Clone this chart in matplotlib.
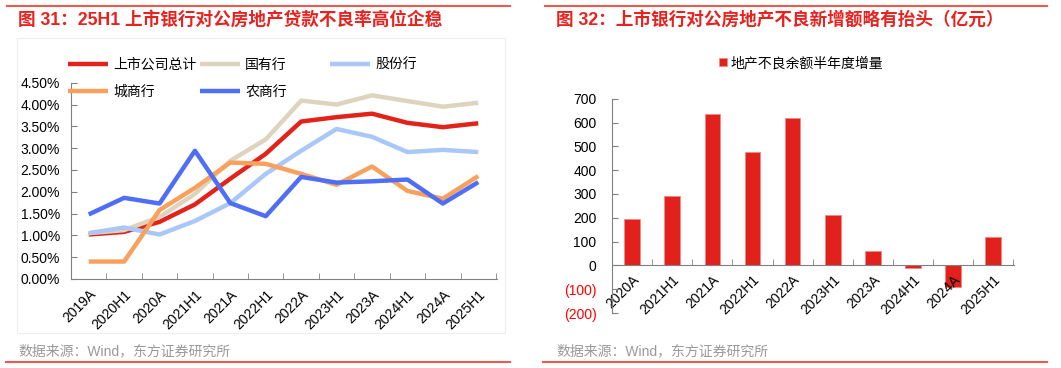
import matplotlib
matplotlib.use("Agg")
import matplotlib.pyplot as plt
import numpy as np
from matplotlib.lines import Line2D
from matplotlib.patches import Rectangle
from matplotlib.ticker import FuncFormatter, MultipleLocator

plt.rcParams['font.family'] = ['Liberation Sans', 'Noto Sans CJK SC']
plt.rcParams['axes.unicode_minus'] = False

# ---- data: left chart (不良率, %) ----
periods = ["2019A", "2020H1", "2020A", "2021H1", "2021A", "2022H1",
           "2022A", "2023H1", "2023A", "2024H1", "2024A", "2025H1"]
total = [1.02, 1.08, 1.31, 1.71, 2.30, 2.87, 3.61, 3.71, 3.79, 3.58, 3.48, 3.57]
state_owned = [1.05, 1.12, 1.42, 1.95, 2.71, 3.20, 4.09, 4.00, 4.21, 4.08, 3.95, 4.04]
joint_stock = [1.05, 1.18, 1.02, 1.33, 1.74, 2.41, 2.94, 3.44, 3.26, 2.91, 2.96, 2.91]
city_comm = [0.40, 0.40, 1.58, 2.09, 2.67, 2.64, 2.41, 2.16, 2.58, 2.02, 1.84, 2.36]
rural_comm = [1.48, 1.86, 1.73, 2.94, 1.74, 1.44, 2.34, 2.21, 2.24, 2.28, 1.73, 2.22]

series_names = ["上市公司总计", "国有行", "股份行", "城商行", "农商行"]
series_colors = ["#e2231a", "#ded4be", "#aac8f7", "#f9a15c", "#4f6ef6"]

# ---- data: right chart (亿元) ----
bar_periods = ["2020A", "2021H1", "2021A", "2022H1", "2022A",
               "2023H1", "2023A", "2024H1", "2024A", "2025H1"]
npl_increase = [193, 290, 637, 476, 620, 210, 60, -10, -91, 120]

RED = "#e8231f"
LINE_RED = "#ea5a4f"

fig = plt.figure(figsize=(10.61, 3.68), dpi=100)

# header / footer decorations
for x0, x1 in [(7, 510), (545, 1047)]:
    fig.add_artist(Line2D([x0 / 1061, x1 / 1061], [1 - 5.5 / 368] * 2, color=LINE_RED, lw=1.5))
for x0, x1 in [(6, 510), (543, 1047)]:
    fig.add_artist(Line2D([x0 / 1061, x1 / 1061], [1 - 361.5 / 368] * 2, color=LINE_RED, lw=1.5))
fig.add_artist(Rectangle((17 / 1061, 1 - 333 / 368), 488 / 1061, 295 / 368,
                         fill=False, ec="#eeeeee", lw=0.8))

fig.text(18 / 1061, 1 - 20 / 368, "图 31：25H1 上市银行对公房地产贷款不良率高位企稳",
         color=RED, fontsize=12.7, fontweight="bold", va="center", ha="left")
fig.text(556 / 1061, 1 - 20 / 368, "图 32：上市银行对公房地产不良新增额略有抬头（亿元）",
         color=RED, fontsize=12.7, fontweight="bold", va="center", ha="left")
fig.text(18 / 1061, 1 - 351 / 368, "数据来源：Wind，东方证券研究所",
         color="#999999", fontsize=10, va="center", ha="left")
fig.text(556 / 1061, 1 - 351 / 368, "数据来源：Wind，东方证券研究所",
         color="#999999", fontsize=10, va="center", ha="left")

# ---- left chart ----
ax1 = fig.add_axes([71 / 1061, 1 - 279 / 368, 426 / 1061, 196.3 / 368])
x = np.arange(len(periods))
for vals, name, col in zip([total, state_owned, joint_stock, city_comm, rural_comm],
                           series_names, series_colors):
    ax1.plot(x, vals, color=col, lw=3.2, label=name, solid_capstyle="butt")

ax1.set_xlim(-0.46, len(periods) - 0.47)
ax1.set_ylim(0, 4.5)
ax1.yaxis.set_major_locator(MultipleLocator(0.5))
ax1.yaxis.set_major_formatter(FuncFormatter(lambda v, p: f"{v:.2f}%"))
ax1.set_xticks(x)
ax1.set_xticklabels(periods, rotation=45, ha="right", rotation_mode="anchor", fontsize=10)
ax1.set_xticks(np.arange(-0.5, len(periods)), minor=True)
ax1.tick_params(axis="x", which="major", length=0, pad=6)
ax1.tick_params(axis="x", which="minor", length=4, direction="in", color="#808080")
ax1.tick_params(axis="y", length=4, direction="in", color="#808080", labelsize=10, pad=8)
for s in ["top", "right"]:
    ax1.spines[s].set_visible(False)
for s in ["left", "bottom"]:
    ax1.spines[s].set_color("#808080")
    ax1.spines[s].set_linewidth(0.8)

handles, labels = ax1.get_legend_handles_labels()
legend_cols = [([0, 3], 68), ([1, 4], 200), ([2], 330)]
for idx, xpos in legend_cols:
    leg = fig.legend([handles[i] for i in idx], [labels[i] for i in idx],
                     loc="upper left", bbox_to_anchor=(xpos / 1061, 1 - 57.5 / 368),
                     frameon=False, fontsize=10, handlelength=2.9, handletextpad=0.35,
                     borderpad=0, borderaxespad=0, labelspacing=0.95)

# ---- right chart ----
ax2 = fig.add_axes([611.7 / 1061, 1 - 313 / 368, 402.3 / 1061, 214.3 / 368])
xb = np.arange(len(bar_periods))
ax2.bar(xb, npl_increase, width=0.39, color="#e2211c", edgecolor="#f08a86",
        linewidth=0.6, label="地产不良余额半年度增量")
ax2.set_xlim(-0.51, len(bar_periods) - 0.48)
ax2.set_ylim(-200, 700)
ax2.yaxis.set_major_locator(MultipleLocator(100))
ax2.yaxis.set_major_formatter(FuncFormatter(lambda v, p: f"({abs(v):.0f})" if v < 0 else f"{v:.0f}"))
ax2.spines["bottom"].set_position(("data", 0))
for s in ["top", "right"]:
    ax2.spines[s].set_visible(False)
for s in ["left", "bottom"]:
    ax2.spines[s].set_color("#808080")
    ax2.spines[s].set_linewidth(0.8)
ax2.set_xticks(xb)
ax2.set_xticklabels(bar_periods, rotation=45, ha="right", rotation_mode="anchor", fontsize=10)
ax2.set_xticks(np.arange(0.5, len(bar_periods)), minor=True)
ax2.tick_params(axis="x", which="major", length=0, pad=5)
ax2.tick_params(axis="x", which="minor", length=4, direction="in", color="#808080")
ax2.tick_params(axis="y", length=4, direction="in", color="#808080", labelsize=10, pad=11)
fig.canvas.draw()
for t in ax2.get_yticklabels():
    if t.get_text().startswith("("):
        t.set_color("#ff0000")

fig.legend(*ax2.get_legend_handles_labels(), loc="center left",
           bbox_to_anchor=(719 / 1061, 1 - 63 / 368), frameon=False, fontsize=10,
           handlelength=0.55, handleheight=0.55, handletextpad=0.3,
           borderpad=0, borderaxespad=0)

fig.savefig("out.png", dpi=100)
